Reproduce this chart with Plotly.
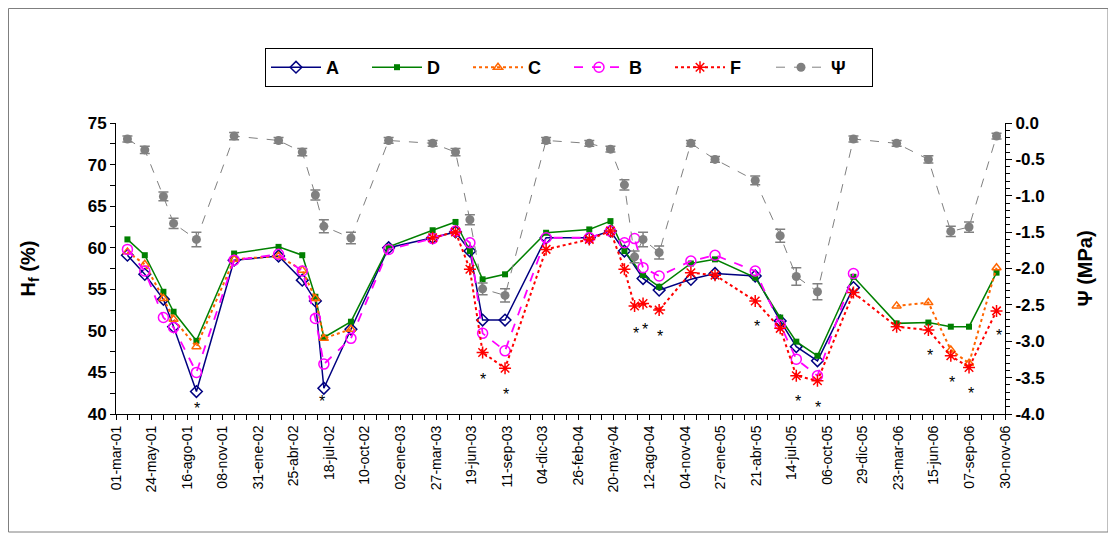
import plotly.graph_objects as go

# ---------------- data ----------------
psi_dates = ["2001-03-28", "2001-05-08", "2001-06-21", "2001-07-15", "2001-09-07", "2001-12-05",
             "2002-03-20", "2002-05-15", "2002-06-15", "2002-07-05", "2002-09-07", "2002-12-05",
             "2003-03-19", "2003-05-12", "2003-06-15", "2003-07-15", "2003-09-06", "2003-12-12",
             "2004-03-23", "2004-05-12", "2004-06-14", "2004-07-08", "2004-07-28", "2004-09-04",
             "2004-11-18", "2005-01-14", "2005-04-19", "2005-06-17", "2005-07-25", "2005-09-13",
             "2005-12-07", "2006-03-19", "2006-06-02", "2006-07-25", "2006-09-06", "2006-11-10"]
psi_values = [-0.22, -0.37, -1.01, -1.38, -1.60, -0.18,
              -0.24, -0.40, -0.99, -1.42, -1.58, -0.24,
              -0.28, -0.40, -1.33, -2.28, -2.37, -0.24,
              -0.28, -0.36, -0.85, -1.84, -1.60, -1.78,
              -0.28, -0.50, -0.79, -1.55, -2.11, -2.32,
              -0.22, -0.28, -0.50, -1.49, -1.43, -0.18]
psi_err = [0.04, 0.05, 0.06, 0.07, 0.10, 0.05,
           0.04, 0.05, 0.07, 0.09, 0.08, 0.04,
           0.04, 0.05, 0.07, 0.08, 0.09, 0.04,
           0.04, 0.04, 0.07, 0.08, 0.10, 0.09,
           0.04, 0.04, 0.06, 0.09, 0.12, 0.11,
           0.04, 0.04, 0.05, 0.07, 0.07, 0.04]

a_dates = ["2001-03-28", "2001-05-08", "2001-06-21", "2001-07-15", "2001-09-07", "2001-12-05",
           "2002-03-20", "2002-05-15", "2002-06-15", "2002-07-05", "2002-09-07", "2002-12-05",
           "2003-03-19", "2003-05-12", "2003-06-15", "2003-07-15", "2003-09-06", "2003-12-12",
           "2004-03-23", "2004-05-12", "2004-06-14", "2004-07-28", "2004-09-04",
           "2004-11-18", "2005-01-14", "2005-04-19", "2005-06-17", "2005-07-25", "2005-09-13",
           "2005-12-07"]
a_values = [59.1, 56.8, 53.8, 50.5, 42.7, 58.5,
            59.0, 56.1, 53.6, 43.1, 50.2, 60.0,
            61.2, 61.9, 59.6, 51.3, 51.3, 61.2,
            61.2, 62.0, 59.6, 56.3, 54.9,
            56.2, 56.9, 56.6, 51.2, 48.1, 46.4,
            55.2]

d_dates = ["2001-03-28", "2001-05-08", "2001-06-21", "2001-07-15", "2001-09-07", "2001-12-05",
           "2002-03-20", "2002-05-15", "2002-06-15", "2002-07-05", "2002-09-07", "2002-12-05",
           "2003-03-19", "2003-05-12", "2003-06-15", "2003-07-15", "2003-09-06", "2003-12-12",
           "2004-03-23", "2004-05-12", "2004-06-14", "2004-07-28", "2004-09-04",
           "2004-11-18", "2005-01-14", "2005-04-19", "2005-06-17", "2005-07-25", "2005-09-13",
           "2005-12-07", "2006-03-19", "2006-06-02", "2006-07-25", "2006-09-06", "2006-11-10"]
d_values = [61.0, 59.1, 54.7, 52.3, 48.8, 59.3,
            60.1, 59.1, 54.1, 49.2, 51.1, 60.1,
            62.1, 63.1, 59.6, 56.2, 56.8, 61.8,
            62.2, 63.2, 59.6, 56.7, 55.3,
            58.1, 58.6, 56.4, 51.6, 48.7, 47.0,
            56.5, 50.9, 51.0, 50.5, 50.5, 57.0]

c_dates = ["2001-03-28", "2001-05-08", "2001-06-21", "2001-07-15", "2001-09-07", "2001-12-05",
           "2002-03-20", "2002-05-15", "2002-06-15", "2002-07-05", "2002-09-07", None,
           "2006-03-19", "2006-06-02", "2006-07-25", "2006-09-06", "2006-11-10"]
c_values = [59.5, 58.0, 53.9, 51.4, 48.1, 58.6,
            59.0, 57.3, 53.9, 49.1, 50.2, None,
            53.0, 53.4, 47.7, 46.1, 57.6]

b_dates = ["2001-03-28", "2001-05-08", "2001-06-21", "2001-07-15", "2001-09-07", "2001-12-05",
           "2002-03-20", "2002-05-15", "2002-06-15", "2002-07-05", "2002-09-07", "2002-12-05",
           "2003-03-19", "2003-05-12", "2003-06-15", "2003-07-15", "2003-09-06", "2003-12-12",
           "2004-03-23", "2004-05-12", "2004-06-14", "2004-07-08", "2004-07-28", "2004-09-04",
           "2004-11-18", "2005-01-14", "2005-04-19", "2005-06-17", "2005-07-25", "2005-09-13",
           "2005-12-07"]
b_values = [59.8, 57.2, 51.6, 50.4, 45.0, 58.5,
            59.2, 57.2, 51.5, 46.0, 49.1, 59.8,
            61.1, 62.0, 60.6, 49.7, 47.6, 61.2,
            61.2, 62.0, 60.6, 61.1, 57.6, 56.6,
            58.4, 59.1, 57.2, 50.7, 46.6, 44.6,
            56.9]

f_dates = ["2003-03-19", "2003-05-12", "2003-06-15", "2003-07-15", "2003-09-06", "2003-12-12",
           "2004-03-23", "2004-05-12", "2004-06-14", "2004-07-08", "2004-07-28", "2004-09-04",
           "2004-11-18", "2005-01-14", "2005-04-19", "2005-06-17", "2005-07-25", "2005-09-13",
           "2005-12-07", "2006-03-19", "2006-06-02", "2006-07-25", "2006-09-06", "2006-11-10"]
f_values = [61.2, 61.9, 57.4, 47.4, 45.5, 59.8,
            61.0, 62.0, 57.4, 53.0, 53.3, 52.5,
            57.0, 56.7, 53.6, 50.3, 44.6, 44.0,
            54.6, 50.5, 50.1, 47.0, 45.6, 52.4]

star_dates = ["2001-09-08", "2002-07-01", "2003-07-17", "2003-09-09", "2004-07-11", "2004-08-01",
              "2004-09-06", "2005-04-22", "2005-07-28", "2005-09-15", "2006-06-05", "2006-07-28",
              "2006-09-10", "2006-11-15"]
star_values = [41.1, 42.0, 44.6, 42.8, 50.2, 50.7, 49.8, 51.0, 42.0, 41.3, 47.5, 44.3, 42.9, 49.9]

tick_dates = ["2001-03-01", "2001-05-24", "2001-08-16", "2001-11-08", "2002-01-31", "2002-04-25",
              "2002-07-18", "2002-10-10", "2003-01-02", "2003-03-27", "2003-06-19", "2003-09-11",
              "2003-12-04", "2004-02-26", "2004-05-20", "2004-08-12", "2004-11-04", "2005-01-27",
              "2005-04-21", "2005-07-14", "2005-10-06", "2005-12-29", "2006-03-23", "2006-06-15",
              "2006-09-07", "2006-11-30"]
tick_labels = ["01-mar-01", "24-may-01", "16-ago-01", "08-nov-01", "31-ene-02", "25-abr-02",
               "18-jul-02", "10-oct-02", "02-ene-03", "27-mar-03", "19-jun-03", "11-sep-03",
               "04-dic-03", "26-feb-04", "20-may-04", "12-ago-04", "04-nov-04", "27-ene-05",
               "21-abr-05", "14-jul-05", "06-oct-05", "29-dic-05", "23-mar-06", "15-jun-06",
               "07-sep-06", "30-nov-06"]
psi_tick_vals = [0.0, -0.5, -1.0, -1.5, -2.0, -2.5, -3.0, -3.5, -4.0]
psi_tick_text = ["0.0", "-0.5", "-1.0", "-1.5", "-2.0", "-2.5", "-3.0", "-3.5", "-4.0"]

# ---------------- figure ----------------
FONT = "Liberation Sans, Arial, sans-serif"
W, H = 1116, 540
L, R, T, B = 108, 119, 115, 134
PW, PH = W - L - R, H - T - B


def px(xf):
    return (xf - L) / PW


def py(yf):
    return (H - B - yf) / PH


fig = go.Figure()

fig.add_trace(go.Scatter(
    x=a_dates, y=a_values, name="A", mode="lines+markers",
    line=dict(color="#000080", width=1.5),
    marker=dict(symbol="diamond-open", size=9, color="#000080", line=dict(width=1.5))))
fig.add_trace(go.Scatter(
    x=d_dates, y=d_values, name="D", mode="lines+markers",
    line=dict(color="#008000", width=1.5),
    marker=dict(symbol="square", size=6, color="#008000")))
fig.add_trace(go.Scatter(
    x=c_dates, y=c_values, name="C", mode="lines+markers", connectgaps=False,
    line=dict(color="#FF6600", width=2, dash="dot"),
    marker=dict(symbol="triangle-up-open", size=8, color="#FF6600", line=dict(width=1.5))))
fig.add_trace(go.Scatter(
    x=b_dates, y=b_values, name="B", mode="lines+markers",
    line=dict(color="#FF00FF", width=1.8, dash="dash"),
    marker=dict(symbol="circle-open", size=10, color="#FF00FF", line=dict(width=1.5))))
fig.add_trace(go.Scatter(
    x=f_dates, y=f_values, name="F", mode="lines+markers",
    line=dict(color="#FF0000", width=2, dash="dot"),
    marker=dict(symbol="asterisk-open", size=10, color="#FF0000", line=dict(width=1.5, color="#FF0000"))))
fig.add_trace(go.Scatter(
    x=psi_dates, y=psi_values, name="Ψ", mode="lines+markers", yaxis="y2",
    line=dict(color="#808080", width=1, dash="dash"),
    marker=dict(symbol="circle", size=9, color="#808080"),
    error_y=dict(type="data", array=psi_err, color="#808080", thickness=1.5, width=5)))

for d, v in zip(star_dates, star_values):
    fig.add_annotation(x=d, y=v, text="*", showarrow=False, yshift=-4,
                       font=dict(family=FONT, size=16, color="black"))

fig.add_shape(type="rect", xref="paper", yref="paper",
              x0=px(0.5), x1=px(1100), y0=py(524), y1=py(0.5),
              line=dict(color="#7f7f7f", width=1))

fig.update_layout(
    width=W, height=H,
    margin=dict(l=L, r=R, t=T, b=B, autoexpand=False),
    paper_bgcolor="white", plot_bgcolor="white",
    font=dict(family=FONT, color="black"),
    showlegend=True,
    legend=dict(orientation="h", x=px(257), y=py(40),
                xanchor="left", yanchor="top",
                bordercolor="black", borderwidth=1, bgcolor="white",
                itemwidth=50, entrywidth=36, entrywidthmode="pixels",
                font=dict(family=FONT, size=18, weight="bold")),
    xaxis=dict(type="date", range=["2001-03-01", "2006-11-30"],
               tickvals=tick_dates, ticktext=tick_labels, tickangle=-90,
               tickfont=dict(family=FONT, size=14),
               ticks="outside", ticklen=5, tickcolor="black",
               minor=dict(dtick=28 * 86400000, tick0="2001-03-01", ticks="outside",
                          ticklen=5, tickcolor="black"),
               showline=True, linecolor="black", linewidth=1,
               showgrid=False, zeroline=False, automargin=False),
    yaxis=dict(range=[40, 75], dtick=5, tick0=40,
               tickfont=dict(family=FONT, size=17, weight="bold"),
               ticks="outside", ticklen=5, tickcolor="black",
               minor=dict(dtick=2.5, ticks="outside", ticklen=5, tickcolor="black"),
               showline=True, linecolor="black", linewidth=1,
               showgrid=False, zeroline=False, automargin=False,
               title=dict(text="H<sub>f</sub> (%)", standoff=46,
                          font=dict(family=FONT, size=20, weight="bold"))),
    yaxis2=dict(range=[-4, 0], overlaying="y", side="right",
                tickvals=psi_tick_vals, ticktext=psi_tick_text,
                tickfont=dict(family=FONT, size=17, weight="bold"),
                ticks="outside", ticklen=6, tickcolor="black",
                minor=dict(dtick=0.1, ticks="outside", ticklen=4, tickcolor="black"),
                showline=True, linecolor="black", linewidth=1,
                showgrid=False, zeroline=False, automargin=False,
                title=dict(text="Ψ (MPa)", standoff=34,
                           font=dict(family=FONT, size=20, weight="bold"))),
)

fig.write_html("out.html")
